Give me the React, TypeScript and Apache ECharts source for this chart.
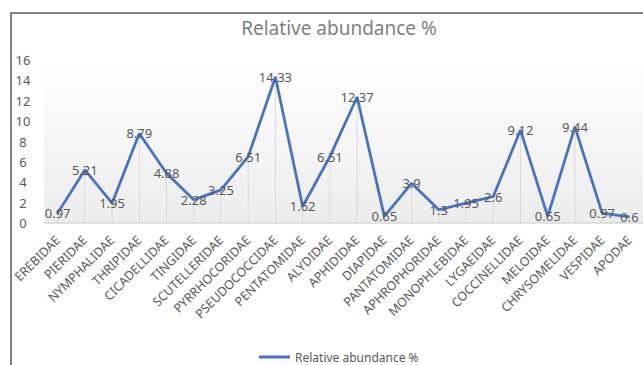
import React, { useEffect, useRef } from "react";
import * as echarts from "echarts";

const categories = [
  "EREBIDAE", "PIERIDAE", "NYMPHALIDAE", "THRIPIDAE", "CICADELLIDAE", "TINGIDAE",
  "SCUTELLERIDAE", "PYRRHOCORIDAE", "PSEUDOCOCCIDAE", "PENTATOMIDAE", "ALYDIDAE",
  "APHIDIDAE", "DIAPIDAE", "PANTATOMIDAE", "APHROPHORIDAE", "MONOPHLEBIDAE",
  "LYGAEIDAE", "COCCINELLIDAE", "MELOIDAE", "CHRYSOMELIDAE", "VESPIDAE", "APODAE",
];
const abundance = [
  0.97, 5.21, 1.95, 8.79, 4.88, 2.28, 3.25, 6.51, 14.33, 1.62, 6.51,
  12.37, 0.65, 3.9, 1.3, 1.95, 2.6, 9.12, 0.65, 9.44, 0.97, 0.6,
];
const seriesName = "Relative abundance %";
const titleText = "Relative abundance %";

export default function App() {
  const ref = useRef<HTMLDivElement>(null);
  useEffect(() => {
    if (!ref.current) return;
    const chart = echarts.init(ref.current, null, { renderer: "svg" });
    const font = "'Noto Sans', 'Open Sans', sans-serif";
    chart.setOption({
      animation: false,
      backgroundColor: "#ffffff",
      textStyle: { fontFamily: font },
      title: {
        text: titleText,
        left: 334,
        top: 13,
        textAlign: "center",
        textStyle: { color: "#7f7f7f", fontSize: 19, fontWeight: "normal", fontFamily: font },
      },
      graphic: [
        {
          type: "rect",
          shape: { x: 11, y: 13, width: 800, height: 500 },
          style: { fill: "none", stroke: "#595959", lineWidth: 1.5 },
          silent: true,
          z: 10,
        },
      ],
      legend: {
        data: [seriesName],
        left: 254,
        top: 346,
        itemWidth: 31,
        itemHeight: 3,
        itemGap: 4,
        textStyle: { color: "#595959", fontSize: 12, fontFamily: font },
        icon: "rect",
      },
      grid: {
        left: 44,
        top: 60,
        width: 605,
        height: 163,
        show: true,
        borderWidth: 0,
        backgroundColor: new echarts.graphic.LinearGradient(0, 0, 0, 1, [
          { offset: 0, color: "#ffffff" },
          { offset: 1, color: "#ececec" },
        ]),
      },
      xAxis: {
        type: "category",
        data: categories,
        boundaryGap: true,
        axisLine: { show: true, lineStyle: { color: "#d9d9d9", width: 1.5 } },
        axisTick: { show: false },
        splitLine: { show: false },
        axisLabel: {
          rotate: 45,
          interval: 0,
          margin: 15,
          color: "#595959",
          fontSize: 12.5,
          fontFamily: font,
        },
      },
      yAxis: {
        type: "value",
        min: 0,
        max: 16,
        interval: 2,
        axisLine: { show: false },
        axisTick: { show: false },
        splitLine: { show: false },
        axisLabel: {
          color: "#595959",
          fontSize: 13,
          align: "center",
          margin: 21,
          fontFamily: font,
        },
      },
      series: [
        {
          name: "drop",
          type: "bar",
          data: abundance,
          barWidth: 1,
          silent: true,
          itemStyle: { color: "#d9d9d9" },
          z: 1,
        },
        {
          name: seriesName,
          type: "line",
          data: abundance,
          symbol: "circle",
          symbolSize: 1,
          showSymbol: true,
          lineStyle: { color: "#4472C4", width: 2.75 },
          itemStyle: { color: "#4472C4" },
          z: 3,
          label: {
            show: true,
            position: "inside",
            color: "#595959",
            fontSize: 13,
            fontFamily: font,
          },
          labelLayout: { hideOverlap: false },
        },
      ],
    });
    return () => chart.dispose();
  }, []);
  return (
    <div
      ref={ref}
      style={{ position: "fixed", left: 0, top: 0, width: 643, height: 365 }}
    />
  );
}
